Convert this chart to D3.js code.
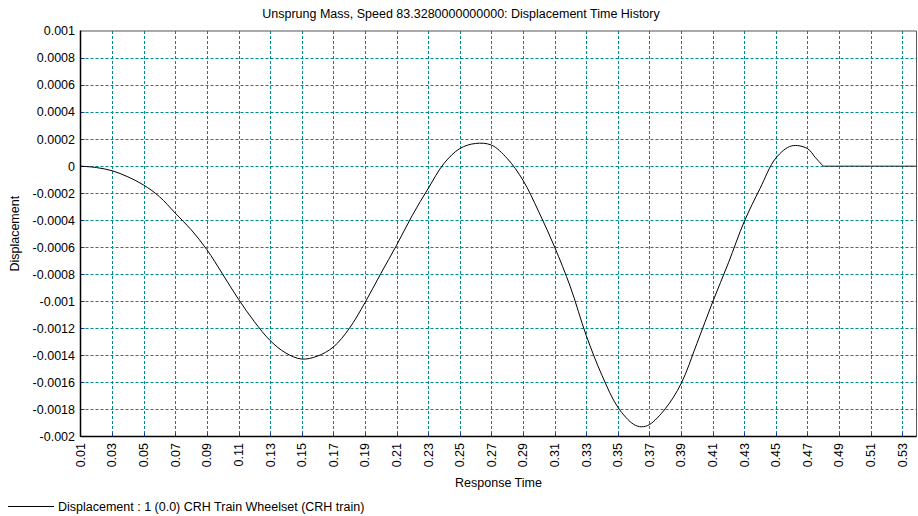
<!DOCTYPE html>
<html>
<head>
<meta charset="utf-8">
<script src="https://cdn.jsdelivr.net/npm/d3@7"></script>
<style>
  html, body { margin: 0; padding: 0; background: #fff; }
  svg { display: block; font-family: "Liberation Sans", Arial, sans-serif; }
</style>
</head>
<body>
<svg id="chart" width="918" height="516"></svg>
<script>
const title = "Unsprung Mass, Speed 83.3280000000000: Displacement Time History";
const xTitle = "Response Time";
const yTitle = "Displacement";
const legendLabel = "Displacement : 1 (0.0) CRH Train Wheelset (CRH train)";

const times = [0.01,0.02,0.03,0.04,0.05,0.06,0.07,0.08,0.09,0.10,
  0.11,0.12,0.13,0.14,0.15,0.16,0.17,0.18,0.19,0.20,
  0.21,0.22,0.23,0.24,0.25,0.26,0.27,0.28,0.29,0.30,
  0.31,0.32,0.33,0.34,0.35,0.36,0.365,0.37,0.38,0.39,0.40,
  0.41,0.42,0.43,0.44,0.45,0.46,0.47,0.475,0.48,0.49,
  0.50,0.51,0.52,0.53,0.539];
const displacement = [0,-0.000010,-0.000034,-0.000079,-0.00014,-0.000226,-0.000348,-0.00047,-0.000618,-0.0008,
  -0.000985,-0.001150,-0.00129,-0.001383,-0.001427,-0.001405,-0.001338,-0.001202,-0.00101,-0.000795,
  -0.000585,-0.000363,-0.000165,0.00002,0.00013,0.000168,0.000156,0.000057,-0.000104,-0.000338,
  -0.000598,-0.000894,-0.001252,-0.001548,-0.001783,-0.001910,-0.001928,-0.001912,-0.001795,-0.00161,-0.001313,
  -0.001005,-0.000715,-0.000410,-0.000165,0.00006,0.00015,0.00013,0.000064,0,0,
  0,0,0,0,0];

const xTicks = [0.01,0.03,0.05,0.07,0.09,0.11,0.13,0.15,0.17,0.19,0.21,0.23,0.25,0.27,
  0.29,0.31,0.33,0.35,0.37,0.39,0.41,0.43,0.45,0.47,0.49,0.51,0.53];
const xTickLabels = ["0.01","0.03","0.05","0.07","0.09","0.11","0.13","0.15","0.17","0.19","0.21","0.23","0.25","0.27",
  "0.29","0.31","0.33","0.35","0.37","0.39","0.41","0.43","0.45","0.47","0.49","0.51","0.53"];
const yTicks = [0.001,0.0008,0.0006,0.0004,0.0002,0,-0.0002,-0.0004,-0.0006,-0.0008,-0.001,
  -0.0012,-0.0014,-0.0016,-0.0018,-0.002];
const yTickLabels = ["0.001","0.0008","0.0006","0.0004","0.0002","0","-0.0002","-0.0004","-0.0006","-0.0008","-0.001",
  "-0.0012","-0.0014","-0.0016","-0.0018","-0.002"];
const xDomain = [0.01, 0.539];
const yDomain = [-0.002, 0.001];

const svg = d3.select("#chart");
const FS = 12.5;
const L = 80.5, R = 916.5, T = 31, B = 436.5;
const x = d3.scaleLinear().domain(xDomain).range([L, R]);
const y = d3.scaleLinear().domain(yDomain).range([B, T]);

// grid
const grid = svg.append("g");
grid.selectAll("line.hg").data(yTicks.filter(v => v !== yDomain[0] && v !== yDomain[1]))
  .enter().append("line")
  .attr("x1", L).attr("x2", R)
  .attr("y1", d => Math.round(y(d)) + 0.5).attr("y2", d => Math.round(y(d)) + 0.5)
  .attr("stroke", "#008b8b").attr("stroke-width", 1).attr("stroke-dasharray", "3,2");
grid.selectAll("line.vg").data(xTicks.filter(v => v !== xDomain[0]))
  .enter().append("line")
  .attr("x1", d => Math.round(x(d)) + 0.5).attr("x2", d => Math.round(x(d)) + 0.5)
  .attr("y1", T).attr("y2", B)
  .attr("stroke", "#008b8b").attr("stroke-width", 1).attr("stroke-dasharray", "3,2");

// small blue ticks
grid.selectAll("line.yt").data(yTicks.filter(v => v !== yDomain[0] && v !== yDomain[1]))
  .enter().append("line")
  .attr("x1", L).attr("x2", L + 4)
  .attr("y1", d => Math.round(y(d)) + 0.5).attr("y2", d => Math.round(y(d)) + 0.5)
  .attr("stroke", "#2030c0").attr("stroke-width", 1);
grid.selectAll("line.xt").data(xTicks.filter(v => v !== xDomain[0]))
  .enter().append("line")
  .attr("x1", d => Math.round(x(d)) + 0.5).attr("x2", d => Math.round(x(d)) + 0.5)
  .attr("y1", B - 4).attr("y2", B)
  .attr("stroke", "#2030c0").attr("stroke-width", 1);

// frame
svg.append("line").attr("x1", L).attr("x2", R).attr("y1", T).attr("y2", T)
  .attr("stroke", "#555").attr("stroke-width", 1);
svg.append("line").attr("x1", R).attr("x2", R).attr("y1", T).attr("y2", B)
  .attr("stroke", "#555").attr("stroke-width", 1);
svg.append("line").attr("x1", L).attr("x2", L).attr("y1", T - 0.5).attr("y2", B + 0.5)
  .attr("stroke", "#000").attr("stroke-width", 1.5);
svg.append("line").attr("x1", L).attr("x2", R).attr("y1", B).attr("y2", B)
  .attr("stroke", "#000").attr("stroke-width", 1.5);

// data line: smooth oscillating part, then straight flat tail
const data = times.map((t, i) => ({t, v: displacement[i]}));
const splitIdx = times.indexOf(0.48);
const smoothPart = data.slice(0, splitIdx + 1);
const flatPart = data.slice(splitIdx);
const smoothLine = d3.line().x(d => x(d.t)).y(d => y(d.v)).curve(d3.curveCatmullRom.alpha(0.5));
const straightLine = d3.line().x(d => x(d.t)).y(d => y(d.v));
svg.append("path").datum(smoothPart).attr("d", smoothLine)
  .attr("fill", "none").attr("stroke", "#000").attr("stroke-width", 1);
svg.append("path").datum(flatPart).attr("d", straightLine)
  .attr("fill", "none").attr("stroke", "#222").attr("stroke-width", 1);

// y tick labels
svg.append("g").selectAll("text").data(yTicks).enter().append("text")
  .attr("x", 75).attr("y", d => y(d)).attr("dy", "0.35em")
  .attr("text-anchor", "end").attr("font-size", FS).attr("fill", "#000")
  .text((d, i) => yTickLabels[i]);

// x tick labels (rotated)
svg.append("g").selectAll("text").data(xTicks).enter().append("text")
  .attr("transform", d => `translate(${x(d)},443) rotate(-90)`)
  .attr("dy", "0.35em")
  .attr("text-anchor", "end").attr("font-size", FS).attr("fill", "#000")
  .text((d, i) => xTickLabels[i]);

// titles
svg.append("text").attr("x", 461).attr("y", 18).attr("text-anchor", "middle")
  .attr("font-size", FS).attr("fill", "#000").text(title);
svg.append("text").attr("x", (L + R) / 2).attr("y", 487).attr("text-anchor", "middle")
  .attr("font-size", FS).attr("fill", "#000").text(xTitle);
svg.append("text").attr("transform", `translate(19,${(T + B) / 2}) rotate(-90)`)
  .attr("text-anchor", "middle").attr("font-size", FS).attr("fill", "#000").text(yTitle);

// legend
svg.append("line").attr("x1", 8).attr("x2", 54).attr("y1", 506.5).attr("y2", 506.5)
  .attr("stroke", "#000").attr("stroke-width", 1);
svg.append("text").attr("x", 58).attr("y", 511).attr("font-size", FS).attr("fill", "#000")
  .text(legendLabel);
</script>
</body>
</html>
